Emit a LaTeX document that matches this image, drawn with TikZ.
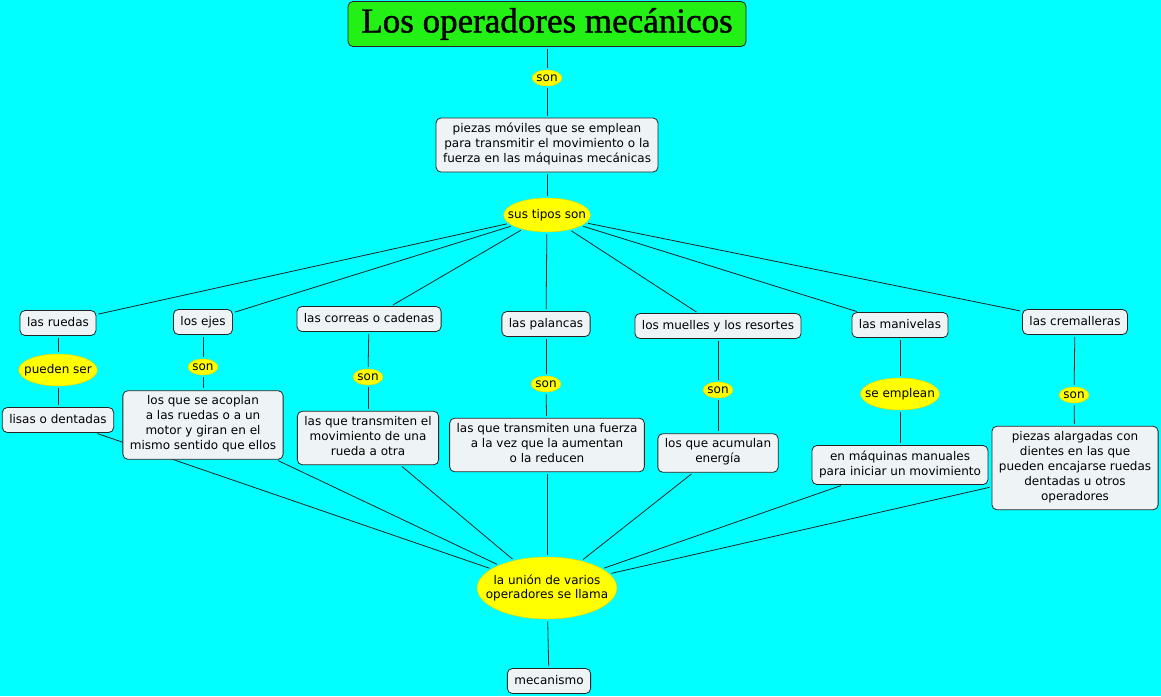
\documentclass[tikz,border=0pt]{standalone}
\usepackage{fontspec}
\setmainfont{DejaVu Sans}
\newfontfamily\titlefont[FakeBold=1.2]{Liberation Serif}
\usetikzlibrary{shapes.geometric}
\pgfdeclarelayer{back}
\pgfdeclarelayer{links}
\pgfsetlayers{back,links,main}
\definecolor{sky}{RGB}{0,255,255}
\definecolor{boxfill}{RGB}{238,243,246}
\definecolor{titlegreen}{RGB}{35,240,20}
\definecolor{linkyellow}{RGB}{255,255,0}
\definecolor{linkedge}{RGB}{230,215,0}
\tikzset{
  concept/.style={draw=black!85,fill=boxfill,rounded corners=5pt,align=center,
    font=\fontsize{12}{15}\selectfont,inner xsep=7pt,inner ysep=5pt,line width=0.8pt,
    execute at begin node=\strut,execute at end node=\strut},
  linkword/.style={ellipse,fill=linkyellow,draw=linkedge,line width=0.5pt,align=center,
    font=\fontsize{12}{14.5}\selectfont,inner sep=0pt,minimum height=16pt},
  link/.style={draw=black!85,line width=0.8pt,shorten <=2pt,shorten >=2pt}
}
\begin{document}
\begin{tikzpicture}[x=1pt,y=-1pt]
\begin{pgfonlayer}{back}
\fill[sky](0,0)rectangle(1161,696);
\end{pgfonlayer}
\useasboundingbox(0,0)rectangle(1161,696);
% title and top
\node[draw=black!85,fill=titlegreen,rounded corners=5pt,line width=0.8pt,minimum width=398pt,minimum height=45pt,
  font=\titlefont\fontsize{35}{40}\selectfont](title) at (547,24){Los operadores mecánicos};
\node[linkword](son) at (547,78){son};
\node[concept](piezas) at (547,145){piezas móviles que se emplean\\para transmitir el movimiento o la\\fuerza en las máquinas mecánicas};
\node[linkword,inner xsep=-8.4pt,minimum height=34pt](tipos) at (547,215){sus tipos son};
% the seven kinds
\node[concept](ruedas) at (58,323){las ruedas};
\node[concept](ejes) at (203,322){los ejes};
\node[concept](correas) at (369,319){las correas o cadenas};
\node[concept](palancas) at (546,324){las palancas};
\node[concept](muelles) at (718,326){los muelles y los resortes};
\node[concept](manivelas) at (900,325){las manivelas};
\node[concept](cremalleras) at (1075,322){las cremalleras};
% linking words
\node[linkword,inner xsep=-6pt,minimum height=32pt](puedenser) at (58,370){pueden ser};
\node[linkword](sonEjes) at (203,367){son};
\node[linkword](sonCorreas) at (368,377){son};
\node[linkword](sonPalancas) at (546,384){son};
\node[linkword](sonMuelles) at (718,390){son};
\node[linkword,inner xsep=-7pt,minimum height=32pt](seemplean) at (900,394){se emplean};
\node[linkword](sonCremalleras) at (1074,395){son};
% descriptions
\node[concept](lisas) at (58,420){lisas o dentadas};
\node[concept](ejesTxt) at (203,425){los que se acoplan\\a las ruedas o a un\\motor y giran en el\\mismo sentido que ellos};
\node[concept](correasTxt) at (368,438){las que transmiten el\\movimiento de una\\rueda a otra};
\node[concept](palancasTxt) at (547,445){las que transmiten una fuerza\\a la vez que la aumentan\\o la reducen};
\node[concept](muellesTxt) at (718,453){los que acumulan\\energía};
\node[concept](manivelasTxt) at (900,465){en máquinas manuales\\para iniciar un movimiento};
\node[concept](cremallerasTxt) at (1075,468){piezas alargadas con\\dientes en las que\\pueden encajarse ruedas\\dentadas u otros\\operadores};
% bottom
\node[linkword,inner xsep=-11.7pt,minimum height=62pt](union) at (547,588){la unión de varios\\operadores se llama};
\node[concept](mecanismo) at (549,681){mecanismo};
% connectors
\begin{pgfonlayer}{links}
\draw[link](title)--(son);
\draw[link](son)--(piezas);
\draw[link](piezas)--(tipos);
\foreach \k in {ruedas,ejes,correas,palancas,muelles,manivelas,cremalleras}
  \draw[link](tipos)--(\k);
\draw[link](ruedas)--(puedenser);\draw[link](puedenser)--(lisas);
\draw[link](ejes)--(sonEjes);\draw[link](sonEjes)--(ejesTxt);
\draw[link](correas)--(sonCorreas);\draw[link](sonCorreas)--(correasTxt);
\draw[link](palancas)--(sonPalancas);\draw[link](sonPalancas)--(palancasTxt);
\draw[link](muelles)--(sonMuelles);\draw[link](sonMuelles)--(muellesTxt);
\draw[link](manivelas)--(seemplean);\draw[link](seemplean)--(manivelasTxt);
\draw[link](cremalleras)--(sonCremalleras);\draw[link](sonCremalleras)--(cremallerasTxt);
\foreach \d in {lisas,ejesTxt,correasTxt,palancasTxt,muellesTxt,manivelasTxt,cremallerasTxt}
  \draw[link](\d)--(union);
\draw[link](union)--(mecanismo);
\end{pgfonlayer}
\end{tikzpicture}
\end{document}
